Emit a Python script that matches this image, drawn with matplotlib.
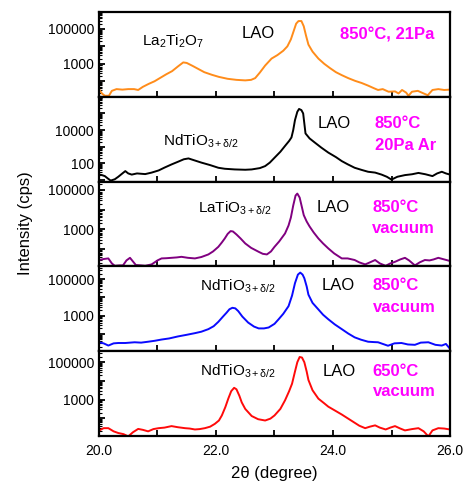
import numpy as np
import matplotlib
matplotlib.use("Agg")
import matplotlib.pyplot as plt
from matplotlib.ticker import LogLocator, FixedLocator, NullFormatter, FuncFormatter

plt.rcParams['font.family'] = ['Liberation Sans', 'DejaVu Sans']
plt.rcParams['mathtext.fontset'] = 'custom'
plt.rcParams['mathtext.rm'] = 'Liberation Sans'
plt.rcParams['mathtext.it'] = 'Liberation Sans'

# 2theta (deg) and log10(intensity / cps), top panel first
tt_a = [20.0, 20.05, 20.1, 20.17, 20.22, 20.3, 20.4, 20.5, 20.6, 20.67, 20.75, 20.85, 20.95,
        21.05, 21.15, 21.25, 21.35, 21.44, 21.5, 21.6, 21.7, 21.8, 21.93, 22.05, 22.2, 22.35,
        22.5, 22.6, 22.67, 22.75, 22.84, 22.95, 23.05, 23.15, 23.22, 23.28, 23.33, 23.37, 23.41,
        23.46, 23.5, 23.54, 23.58, 23.65, 23.75, 23.85, 23.95, 24.05, 24.15, 24.26, 24.38, 24.49,
        24.6, 24.7, 24.77, 24.85, 24.95, 25.06, 25.12, 25.18, 25.25, 25.29, 25.35, 25.45, 25.55,
        25.62, 25.7, 25.8, 25.9, 26.0]
lg_a = [1.55, 1.30, 1.17, 1.17, 1.45, 1.55, 1.52, 1.55, 1.55, 1.50, 1.68, 1.85, 2.00,
        2.20, 2.40, 2.58, 2.85, 3.08, 3.05, 2.88, 2.70, 2.52, 2.37, 2.25, 2.14, 2.08,
        2.05, 2.08, 2.18, 2.50, 2.90, 3.30, 3.50, 3.75, 4.00, 4.40, 4.90, 5.30, 5.45,
        5.45, 5.15, 4.60, 4.10, 3.70, 3.30, 3.00, 2.75, 2.52, 2.35, 2.18, 2.02, 1.90,
        1.75, 1.60, 1.50, 1.55, 1.40, 1.42, 1.30, 1.50, 1.35, 1.17, 1.40, 1.45, 1.30,
        1.20, 1.50, 1.55, 1.50, 1.52]

tt_b = [20.0, 20.05, 20.1, 20.15, 20.2, 20.27, 20.33, 20.4, 20.45, 20.5, 20.56, 20.65, 20.79,
        20.9, 21.02, 21.12, 21.24, 21.35, 21.45, 21.53, 21.6, 21.75, 21.9, 22.04, 22.15, 22.32,
        22.5, 22.61, 22.75, 22.84, 22.92, 23.0, 23.1, 23.18, 23.25, 23.29, 23.32, 23.35, 23.39,
        23.42, 23.46, 23.49, 23.51, 23.53, 23.6, 23.69, 23.8, 23.92, 24.05, 24.15, 24.25, 24.37,
        24.5, 24.6, 24.72, 24.83, 24.92, 25.0, 25.1, 25.23, 25.35, 25.46, 25.58, 25.7, 25.78,
        25.86, 25.93, 26.0]
lg_b = [1.33, 1.30, 1.24, 1.10, 0.97, 1.05, 1.20, 1.40, 1.54, 1.40, 1.33, 1.40, 1.36,
        1.45, 1.58, 1.75, 1.94, 2.10, 2.25, 2.30, 2.22, 2.05, 1.90, 1.74, 1.68, 1.64,
        1.62, 1.64, 1.72, 1.84, 2.05, 2.34, 2.70, 3.05, 3.35, 3.56, 4.00, 4.60, 5.10,
        5.27, 5.20, 5.00, 4.40, 3.80, 3.50, 3.25, 2.95, 2.65, 2.38, 2.14, 1.95, 1.74,
        1.60, 1.50, 1.45, 1.33, 1.20, 1.03, 1.20, 1.30, 1.35, 1.43, 1.35, 1.24, 1.40,
        1.50, 1.40, 1.33]

tt_c = [20.0, 20.08, 20.16, 20.22, 20.27, 20.35, 20.41, 20.47, 20.53, 20.58, 20.63, 20.72, 20.79,
        20.9, 21.0, 21.07, 21.15, 21.24, 21.33, 21.41, 21.52, 21.64, 21.75, 21.87, 21.95, 22.04,
        22.1, 22.15, 22.2, 22.25, 22.29, 22.35, 22.42, 22.5, 22.6, 22.73, 22.8, 22.87, 22.94,
        23.0, 23.08, 23.18, 23.24, 23.28, 23.32, 23.36, 23.39, 23.43, 23.47, 23.5, 23.55, 23.6,
        23.67, 23.75, 23.83, 23.92, 24.02, 24.15, 24.25, 24.37, 24.45, 24.55, 24.63, 24.72, 24.8,
        24.9, 24.98, 25.06, 25.15, 25.23, 25.3, 25.4, 25.48, 25.57, 25.65, 25.72, 25.8, 25.9, 26.0]
lg_c = [1.47, 1.52, 1.55, 1.30, 1.18, 1.20, 1.20, 1.45, 1.58, 1.40, 1.22, 1.20, 1.18,
        1.25, 1.45, 1.55, 1.56, 1.58, 1.60, 1.63, 1.58, 1.55, 1.62, 1.75, 1.90, 2.13,
        2.35, 2.55, 2.78, 2.92, 2.90, 2.75, 2.55, 2.30, 2.08, 1.88, 1.78, 1.75, 1.90,
        2.13, 2.40, 2.80, 3.20, 3.60, 4.20, 4.70, 4.80, 4.60, 4.10, 3.72, 3.40, 3.15,
        2.85, 2.55, 2.30, 2.05, 1.80, 1.55, 1.55, 1.47, 1.35, 1.25, 1.35, 1.47, 1.30,
        1.18, 1.30, 1.38, 1.50, 1.58, 1.45, 1.20, 1.35, 1.47, 1.45, 1.50, 1.58, 1.50, 1.42]

tt_d = [20.0, 20.08, 20.16, 20.25, 20.33, 20.45, 20.61, 20.72, 20.84, 20.95, 21.07, 21.2, 21.35,
        21.5, 21.64, 21.75, 21.87, 21.96, 22.04, 22.12, 22.18, 22.23, 22.28, 22.33, 22.38, 22.45,
        22.55, 22.65, 22.73, 22.82, 22.9, 23.0, 23.07, 23.15, 23.24, 23.3, 23.35, 23.4, 23.44,
        23.48, 23.51, 23.55, 23.58, 23.65, 23.75, 23.83, 23.92, 24.03, 24.15, 24.26, 24.37, 24.48,
        24.6, 24.7, 24.77, 24.85, 24.94, 25.05, 25.17, 25.28, 25.4, 25.5, 25.63, 25.75, 25.86,
        25.93, 26.0]
lg_d = [1.54, 1.48, 1.36, 1.48, 1.50, 1.50, 1.54, 1.52, 1.57, 1.62, 1.69, 1.75, 1.86,
        1.95, 2.04, 2.12, 2.26, 2.42, 2.66, 2.95, 3.16, 3.35, 3.43, 3.40, 3.25, 2.95,
        2.62, 2.40, 2.30, 2.30, 2.35, 2.55, 2.80, 3.10, 3.52, 4.10, 4.78, 5.25, 5.36,
        5.25, 5.05, 4.60, 4.15, 3.70, 3.34, 3.05, 2.80, 2.52, 2.26, 2.02, 1.81, 1.68,
        1.57, 1.55, 1.54, 1.45, 1.35, 1.48, 1.50, 1.42, 1.40, 1.52, 1.54, 1.40, 1.36,
        1.45, 1.18]

tt_e = [20.0, 20.08, 20.16, 20.25, 20.33, 20.42, 20.5, 20.58, 20.67, 20.75, 20.84, 20.93, 21.02,
        21.12, 21.24, 21.35, 21.47, 21.55, 21.64, 21.72, 21.81, 21.9, 21.98, 22.05, 22.1, 22.16,
        22.21, 22.26, 22.31, 22.35, 22.4, 22.44, 22.5, 22.61, 22.72, 22.84, 22.93, 23.0, 23.1,
        23.18, 23.25, 23.3, 23.35, 23.39, 23.43, 23.47, 23.51, 23.55, 23.58, 23.65, 23.75, 23.85,
        23.92, 24.03, 24.15, 24.26, 24.37, 24.45, 24.55, 24.63, 24.72, 24.8, 24.9, 24.98, 25.06,
        25.15, 25.23, 25.35, 25.46, 25.55, 25.63, 25.7, 25.8, 25.9, 26.0]
lg_e = [1.34, 1.47, 1.47, 1.30, 1.21, 1.15, 1.03, 1.25, 1.43, 1.38, 1.30, 1.42, 1.47,
        1.50, 1.58, 1.52, 1.47, 1.45, 1.40, 1.42, 1.47, 1.55, 1.70, 1.88, 2.15, 2.60,
        3.05, 3.45, 3.63, 3.55, 3.20, 2.85, 2.50, 2.12, 1.95, 1.88, 1.98, 2.15, 2.50,
        2.96, 3.45, 3.85, 4.50, 5.00, 5.28, 5.25, 5.00, 4.50, 4.05, 3.50, 3.05, 2.80,
        2.62, 2.42, 2.20, 1.98, 1.76, 1.60, 1.47, 1.55, 1.62, 1.50, 1.40, 1.50, 1.58,
        1.45, 1.35, 1.42, 1.47, 1.30, 1.03, 1.35, 1.47, 1.45, 1.40]

colors = ['#ff8c1a', '#000000', '#800080', '#0a0aff', '#ff0a0a']
phases = [r'La$_2$Ti$_2$O$_7$', r'NdTiO$_{3+δ/2}$', r'LaTiO$_{3+δ/2}$',
          r'NdTiO$_{3+δ/2}$', r'NdTiO$_{3+δ/2}$']
conditions = [['850°C, 21Pa'], ['850°C', '20Pa Ar'], ['850°C', 'vacuum'],
              ['850°C', 'vacuum'], ['650°C', 'vacuum']]
ylims = [(1.11, 5.97), (0.91, 6.0), (1.15, 5.4), (1.05, 5.7), (1.05, 5.59)]
ylabels_at = [[1e3, 1e5], [1e2, 1e4], [1e3, 1e5], [1e3, 1e5], [1e3, 1e5]]

# label spots in axes fraction: phase (x, y), LAO (x, y), condition (x, y1, y2)
phase_pos = [(0.122, 0.65), (0.183, 0.48), (0.282, 0.68), (0.287, 0.77), (0.287, 0.76)]
lao_pos = [(0.407, 0.75), (0.624, 0.68), (0.62, 0.70), (0.635, 0.78), (0.638, 0.76)]
cond_pos = [(0.687, 0.73, None), (0.786, 0.68, 0.43), (0.778, 0.70, 0.45),
            (0.78, 0.78, 0.51), (0.78, 0.76, 0.52)]

series = [(tt_a, lg_a), (tt_b, lg_b), (tt_c, lg_c), (tt_d, lg_d), (tt_e, lg_e)]

fig, axes = plt.subplots(5, 1, figsize=(4.66, 4.87), dpi=100, sharex=True)
fig.subplots_adjust(left=0.2124, right=0.9657, top=0.9754, bottom=0.1047, hspace=0)

for i, ax in enumerate(axes):
    tt, lg = series[i]
    ax.plot(tt, 10 ** np.array(lg), color=colors[i], lw=1.4)
    ax.set_yscale('log')
    ax.set_ylim(10 ** ylims[i][0], 10 ** ylims[i][1])
    ax.set_xlim(20, 26)

    ax.yaxis.set_major_locator(LogLocator(base=10, numticks=20))
    ax.yaxis.set_minor_locator(LogLocator(base=10, subs=np.arange(2, 10), numticks=20))
    ax.yaxis.set_minor_formatter(NullFormatter())
    ax.yaxis.set_major_formatter(
        FuncFormatter(lambda v, p, lab=ylabels_at[i]:
                      '%d' % round(v) if any(abs(v - l) < 1e-6 * l for l in lab) else ''))

    ax.xaxis.set_major_locator(FixedLocator([20, 21, 22, 23, 24, 25, 26]))
    ax.xaxis.set_major_formatter(FuncFormatter(
        lambda v, p: '%.1f' % v if round(v) % 2 == 0 else ''))
    ax.tick_params(axis='both', which='major', direction='in', length=4, width=1.3,
                   labelsize=10, top=False, right=False)
    ax.tick_params(axis='y', which='minor', direction='in', length=2, width=0.8, right=False)
    ax.tick_params(axis='x', which='major', pad=6)
    for sp in ax.spines.values():
        sp.set_linewidth(1.6)

    ax.text(phase_pos[i][0], phase_pos[i][1], phases[i], transform=ax.transAxes,
            fontsize=11, ha='left', va='center')
    ax.text(lao_pos[i][0], lao_pos[i][1], 'LAO', transform=ax.transAxes,
            fontsize=12, ha='left', va='center')
    cx, cy1, cy2 = cond_pos[i]
    ax.text(cx, cy1, conditions[i][0], transform=ax.transAxes, fontsize=12,
            fontweight='bold', color='#ff00ff', ha='left', va='center')
    if cy2 is not None:
        ax.text(cx, cy2, conditions[i][1], transform=ax.transAxes, fontsize=12,
                fontweight='bold', color='#ff00ff', ha='left', va='center')

fig.text(0.054, 0.542, 'Intensity (cps)', rotation=90, ha='center', va='center', fontsize=12)
fig.text(0.588, 0.027, '2θ (degree)', ha='center', va='center', fontsize=12)

fig.savefig('out.png', dpi=100)
